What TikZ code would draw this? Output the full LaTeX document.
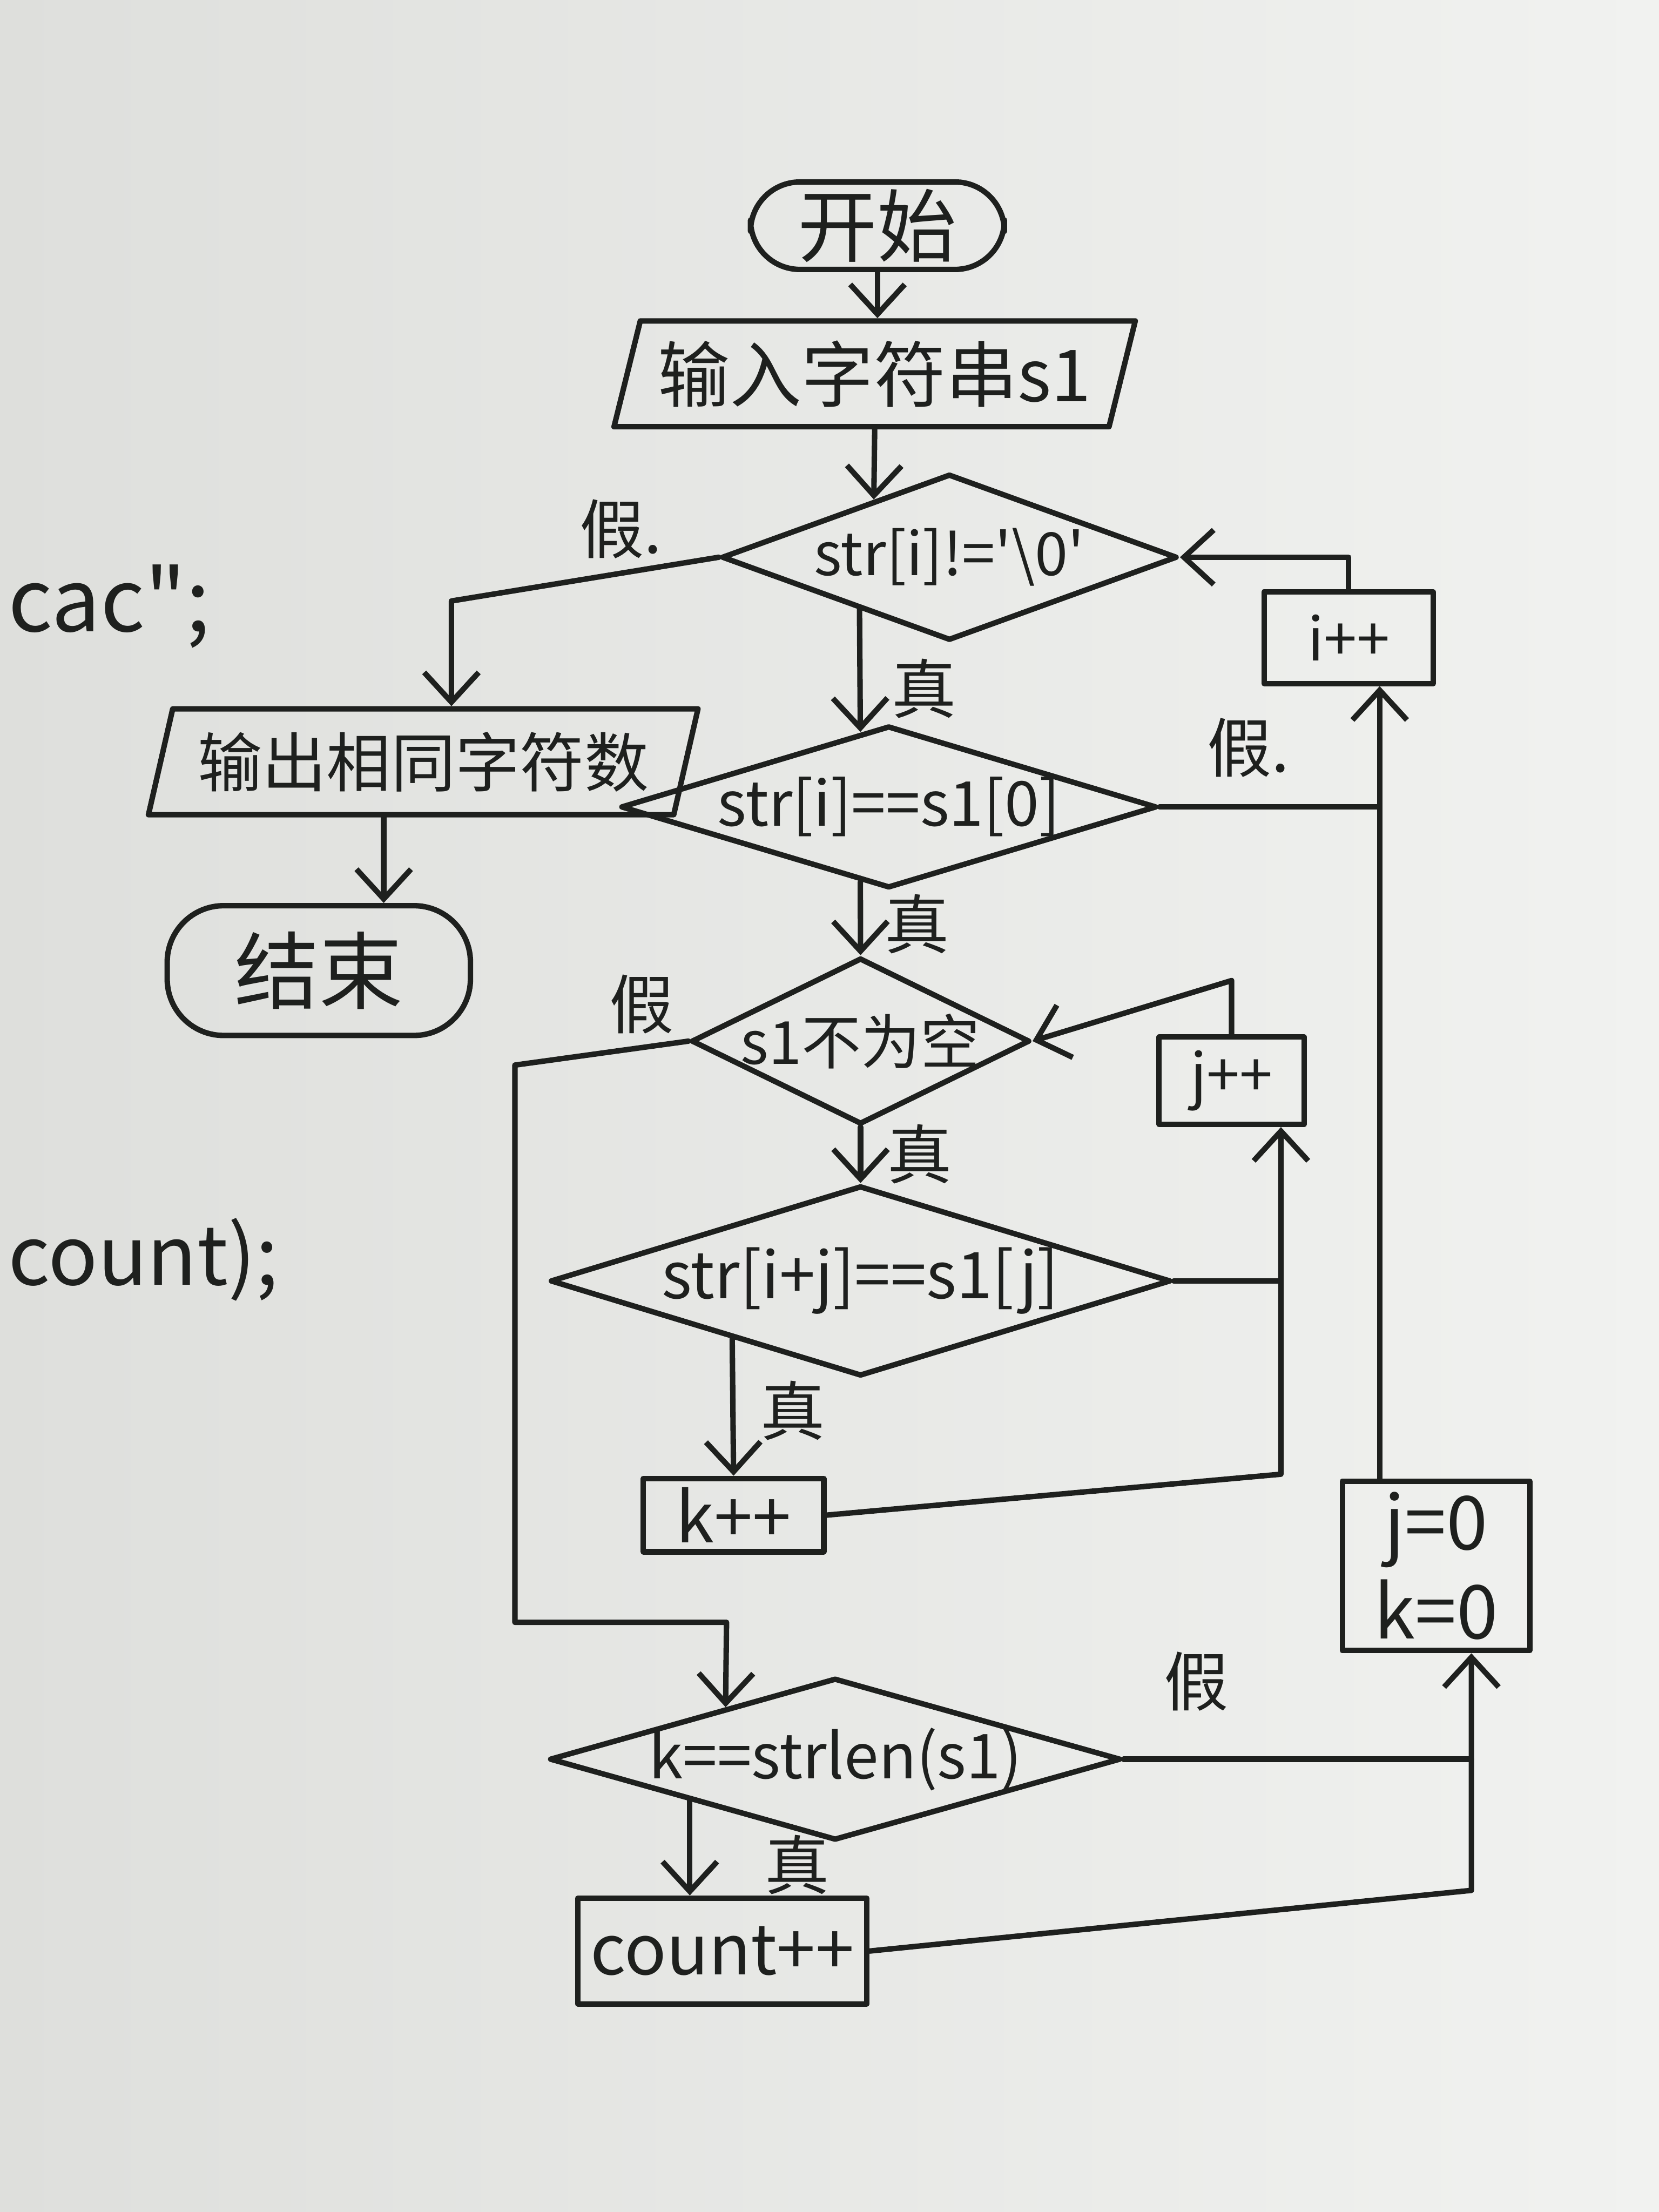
\documentclass[tikz,border=0pt]{standalone}
\usepackage{fontspec}
\newfontfamily\cjk{Noto Sans CJK SC}
\usetikzlibrary{shapes.geometric,arrows.meta,calc}
\definecolor{ink}{RGB}{30,32,30}
\definecolor{paperL}{RGB}{222,223,220}
\definecolor{paperR}{RGB}{241,242,240}
\newcommand{\fsz}[1]{\fontsize{#1}{#1}\selectfont}
\tikzset{
  base/.style={draw=ink, line width=2.2pt, inner sep=0pt, font=\cjk, text=ink},
  term/.style={base, rectangle, rounded corners=0.7cm},
  io/.style={base, trapezium, trapezium left angle=70, trapezium right angle=110, trapezium stretches=true},
  proc/.style={base, rectangle},
  dec/.style={base, diamond},
  lab/.style={font=\cjk\fsz{26}, inner sep=1pt, text=ink},
  arr/.style={-{Straight Barb[length=12pt,width=22pt]}},
}
\begin{document}
\begin{tikzpicture}[x=0.02cm, y=-0.02cm, color=ink, line width=2.2pt, line cap=round, line join=round]
\shade[left color=paperL, right color=paperR] (0,0) rectangle (1176,1568);
\useasboundingbox (0,0) rectangle (1176,1568);

% background scribbles from the notebook page
\node[font=\cjk\fsz{35}, anchor=west, inner sep=0pt] (bg1) at (4,430) {cac";};
\node[font=\cjk\fsz{33}, anchor=west, inner sep=0pt] (bg2) at (4,893) {count);};

% nodes
\node[term, minimum width=3.6cm, minimum height=1.24cm, font=\cjk\fsz{32}] (start) at (622,160) {开始};
\node[io, minimum width=7.4cm, minimum height=1.5cm, font=\cjk\fsz{29}] (input) at (620,265) {输入字符串s1};
\node[dec, minimum width=6.46cm, minimum height=2.36cm, font=\cjk\fsz{24}] (d1) at (673,395) {\makebox[0pt]{str[i]!='\textbackslash 0'}};
\node[proc, minimum width=2.4cm, minimum height=1.3cm, font=\cjk\fsz{24}] (ipp) at (956,452) {i++};
\node[io, minimum width=7.8cm, minimum height=1.5cm, font=\cjk\fsz{26}] (output) at (300,540) {输出相同字符数};
\node[term, minimum width=4.3cm, minimum height=1.84cm, rounded corners=0.8cm, font=\cjk\fsz{34}] (endn) at (226,688) {结束};
\node[dec, minimum width=7.6cm, minimum height=2.3cm, font=\cjk\fsz{25}] (d2) at (630,572) {\makebox[0pt]{str[i]==s1[0]}};
\node[dec, minimum width=4.8cm, minimum height=2.36cm, font=\cjk\fsz{24}] (d3) at (610,738) {\makebox[0pt]{s1不为空}};
\node[proc, minimum width=2.06cm, minimum height=1.24cm, font=\cjk\fsz{24}] (jpp) at (873,766) {j++};
\node[dec, minimum width=8.8cm, minimum height=2.7cm, font=\cjk\fsz{26}] (d4) at (610,908) {\makebox[0pt]{str[i+j]==s1[j]}};
\node[proc, minimum width=2.56cm, minimum height=1.04cm, font=\cjk\fsz{28}] (kpp) at (520,1074) {k++};
\node[dec, minimum width=8.1cm, minimum height=2.3cm, font=\cjk\fsz{25}] (d5) at (592,1247) {\makebox[0pt]{k==strlen(s1)}};
\node[proc, minimum width=4.1cm, minimum height=1.5cm, font=\cjk\fsz{28}] (cnt) at (512,1383) {count++};
\node[proc, minimum width=2.66cm, minimum height=2.4cm, align=center, font=\cjk\fontsize{30}{36}\selectfont] (jk0) at (1018,1110) {j=0\\k=0};

% helper corners
\coordinate (f1) at (320,426);
\coordinate (rv) at (978,800);
\coordinate (l1) at (365,755);
\coordinate (l2) at (365,1150);
\coordinate (l3) at (515,1150);
\coordinate (jv) at (908,1045);
\coordinate (bv) at (1043,1340);
\coordinate (oe) at (272,600);
\path ($(d5.south)!0.504!(d5.west)$) coordinate (t5);

% connectors
\draw[arr] (start.south) -- (start.south |- input.north);
\draw[arr] (input.south) -- ($(d1.west)!0.672!(d1.north)$);
\draw[arr] (d1.west) -- (f1) -- (f1 |- output.north);
\draw[arr] ($(d1.south)!0.39!(d1.west)$) -- ($(d2.north)!0.105!(d2.west)$);
\draw[arr] (ipp.north) |- (d1.east);
\draw[arr] (jk0.north -| rv) -- (ipp.south -| rv);
\draw (d2.east) -- (d2.east -| rv);
\draw[arr] ($(d2.south)!0.105!(d2.west)$) -- (d3.north);
\draw[arr] (d3.west) -- (l1) -- (l2) -- (l3) -- ($(d5.north)!0.38!(d5.west)$);
\draw[arr] (d3.south) -- (d4.north);
\draw[arr] (jpp.north) -- ++(0,-38) -- (d3.east);
\draw[arr] (kpp.east) -- (jv) -- (jpp.south -| jv);
\draw (d4.east) -- (d4.east -| jv);
\draw[arr] ($(d4.south)!0.41!(d4.west)$) -- (kpp.north);
\draw (d5.east) -- (d5.east -| bv);
\draw[arr] (cnt.east) -- (bv) -- (jk0.south -| bv);
\draw[arr] (t5) -- (t5 |- cnt.north);
\draw[arr] (output.south -| oe) -- (endn.north -| oe);

% branch labels
\node[lab] (lf1) at (440,375) {假.};
\node[lab] (lt1) at (655,488) {真};
\node[lab] (lf2) at (885,530) {假.};
\node[lab] (lt2) at (650,655) {真};
\node[lab] (lf3) at (455,712) {假};
\node[lab] (lt3) at (652,818) {真};
\node[lab] (lt4) at (562,1000) {真};
\node[lab] (lf5) at (848,1192) {假};
\node[lab] (lt5) at (565,1322) {真};
\end{tikzpicture}
\end{document}
